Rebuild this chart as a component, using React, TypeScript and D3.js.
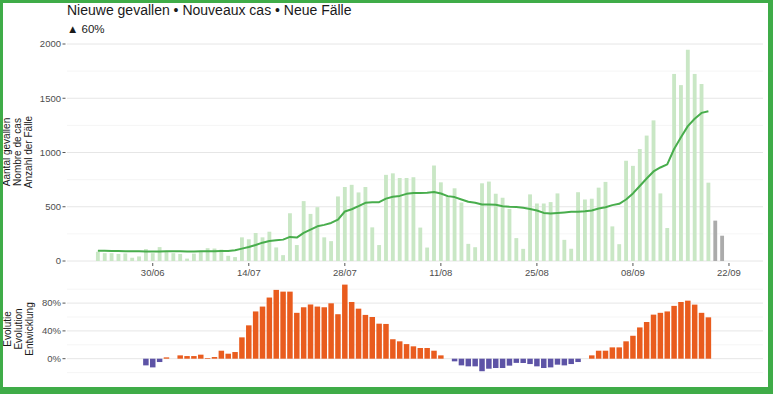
import React from "react";
import * as d3 from "d3";

// ---- data ----
const CASES_START = "2020-06-22";
// daily new cases, 22/06 .. 19/09
const cases = [
  85, 72, 72, 65, 70, 30, 42, 110, 72, 128, 85, 72, 65, 22, 68, 85, 118, 115, 105, 48, 36,
  218, 200, 258, 218, 270, 125, 54, 440, 147, 552, 434, 496, 218, 183, 595, 682, 702, 632,
  682, 310, 147, 794, 808, 765, 765, 772, 308, 124, 880, 725, 601, 670, 539, 158, 127, 716,
  732, 620, 583, 480, 211, 112, 614, 530, 530, 543, 623, 195, 113, 634, 567, 574, 676, 729,
  319, 155, 924, 877, 1032, 1156, 1296, 623, 304, 1724, 1621, 1947, 1724, 1631, 722,
];
// incomplete days, 20/09 .. 21/09
const incompleteCases = [372, 233];
// 7-day average, 22/06 .. 19/09
const rollingAvg = [
  95, 94, 93, 92, 91, 90, 89, 88, 87, 88, 89, 89, 89, 88, 88, 89, 90, 91, 92, 92, 100,
  114, 129, 148, 169, 185, 191, 197, 222, 216, 259, 290, 320, 333, 351, 382, 456, 477, 505,
  536, 542, 542, 575, 592, 600, 619, 627, 627, 629, 636, 622, 598, 589, 567, 546, 536, 521,
  521, 519, 505, 499, 497, 490, 480, 466, 443, 437, 443, 448, 453, 455, 459, 466, 484, 496,
  515, 527, 567, 623, 691, 760, 825, 862, 890, 1032, 1141, 1243, 1311, 1365, 1380,
];
const EVOL_START = "2020-06-29";
// evolution in %, 29/06 .. 19/09
const evolution = [
  -9.6, -12.5, -4.8, 1.9, 0, 4.8, 3.8, 3.8, 5.8, 1, 2.4, 11.5, 7.2, 9.6, 30.7, 48, 68, 75,
  88, 99, 96.5, 96.5, 66, 74, 78, 75, 74, 79.7, 64, 106.6, 81.6, 72, 63, 60, 50.4, 50, 28,
  25, 21, 17.8, 15.4, 15.4, 11.5, 4.8, 0, -3.8, -9.6, -11, -11, -18, -14.4, -13.4, -13.4,
  -10, -6, -6.2, -7.7, -11, -13.4, -12.5, -8.6, -9.6, -7.7, -4.8, 0, 4.8, 11.5, 11.5, 16.3,
  16.3, 25, 33, 45, 52.8, 63.4, 66, 68, 76, 81.6, 83.5, 77.8, 66, 59.5,
];
const yTicks = [0, 500, 1000, 1500, 2000];
const yMinorTicks = [250, 750, 1250, 1750];
const evolTicks = [0, 40, 80];
const evolMinorTicks = [-20, 20, 60, 100];
const xTickLabels = ["30/06", "14/07", "28/07", "11/08", "25/08", "08/09", "22/09"];
const title = "Nieuwe gevallen • Nouveaux cas • Neue Fälle";
const subtitle = "▲ 60%";
const yTitle = ["Aantal gevallen", "Nombre de cas", "Anzahl der Fälle"];
const evolTitle = ["Evolutie", "Evolution", "Entwicklung"];

// ---- helpers ----
const DAY = 86400000;
const parse = (s: string) => new Date(s + "T00:00:00Z");
const addDays = (s: string, i: number) => new Date(parse(s).getTime() + i * DAY);
const labelDate = (l: string) => {
  const [dd, mm] = l.split("/").map(Number);
  return new Date(Date.UTC(2020, mm - 1, dd));
};

const FONT = "'Liberation Sans', Arial, Helvetica, sans-serif";

export default function App() {
  const W = 773, H = 394;
  const ref0 = Date.UTC(2020, 5, 30);
  const x = d3
    .scaleUtc()
    .domain([new Date(ref0 - 12.5 * DAY), new Date(ref0 + 88.96 * DAY)])
    .range([67, 763]);
  const yTop = d3.scaleLinear().domain([0, 2000]).range([261, 44]);
  const yEv = d3.scaleLinear().domain([0, 80]).range([358.7, 303.1]);
  const dayW = x(new Date(ref0 + DAY)) - x(new Date(ref0));
  const topBarW = dayW * 0.56;
  const evBarW = dayW * 0.8;

  const line = d3
    .line<number>()
    .x((_, i) => x(addDays(CASES_START, i)))
    .y((v) => yTop(v));

  const [px0, px1] = x.range();
  const tickColor = "#4d4d4d";

  return (
    <svg
      width={W}
      height={H}
      style={{ position: "absolute", left: 0, top: 0, background: "#fff" }}
      fontFamily={FONT}
    >
      <rect x={0} y={0} width={W} height={H} fill="#fff" />

      {/* titles */}
      <text x={67} y={15} fontSize={14} fill="#1a1a1a">{title}</text>
      <text x={67} y={33} fontSize={11.5} fill="#1a1a1a">{subtitle}</text>

      {/* top panel grid */}
      {yMinorTicks.map((t) => (
        <line key={"m" + t} x1={px0} x2={px1} y1={yTop(t)} y2={yTop(t)} stroke="#f2f2f2" strokeWidth={0.8} />
      ))}
      {yTicks.map((t) => (
        <line key={"g" + t} x1={px0} x2={px1} y1={yTop(t)} y2={yTop(t)} stroke="#e6e6e6" strokeWidth={1} />
      ))}
      {yTicks.map((t) => (
        <g key={"yt" + t}>
          <line x1={62.5} x2={65.5} y1={yTop(t)} y2={yTop(t)} stroke="#555" strokeWidth={1} />
          <text x={61} y={yTop(t)} dy="0.35em" fontSize={9.5} textAnchor="end" fill={tickColor}>{t}</text>
        </g>
      ))}

      {/* top bars */}
      {cases.map((v, i) => {
        const cx = x(addDays(CASES_START, i));
        return (
          <rect key={"c" + i} x={cx - topBarW / 2} y={yTop(v)} width={topBarW} height={yTop(0) - yTop(v)} fill="#c9e7c5" />
        );
      })}
      {incompleteCases.map((v, i) => {
        const cx = x(addDays(CASES_START, cases.length + i));
        return (
          <rect key={"ic" + i} x={cx - topBarW / 2} y={yTop(v)} width={topBarW} height={yTop(0) - yTop(v)} fill="#ababab" />
        );
      })}
      <path d={line(rollingAvg) || ""} fill="none" stroke="#48ad4c" strokeWidth={2} strokeLinejoin="round" />

      {/* x axis */}
      {xTickLabels.map((l) => {
        const cx = x(labelDate(l));
        return (
          <g key={"xt" + l}>
            <line x1={cx} x2={cx} y1={263} y2={266} stroke="#555" strokeWidth={1} />
            <text x={cx} y={276} fontSize={9.5} textAnchor="middle" fill={tickColor}>{l}</text>
          </g>
        );
      })}

      {/* y title */}
      {yTitle.map((t, i) => (
        <text key={"yti" + i} transform={`translate(${10 + i * 11},152) rotate(-90)`} fontSize={10} textAnchor="middle" fill="#1a1a1a">{t}</text>
      ))}

      {/* bottom panel grid */}
      {evolMinorTicks.map((t) => (
        <line key={"em" + t} x1={px0} x2={px1} y1={yEv(t)} y2={yEv(t)} stroke="#f2f2f2" strokeWidth={0.8} />
      ))}
      {evolTicks.map((t) => (
        <line key={"eg" + t} x1={px0} x2={px1} y1={yEv(t)} y2={yEv(t)} stroke="#e6e6e6" strokeWidth={1} />
      ))}
      {evolTicks.map((t) => (
        <g key={"et" + t}>
          <line x1={62.5} x2={65.5} y1={yEv(t)} y2={yEv(t)} stroke="#555" strokeWidth={1} />
          <text x={61} y={yEv(t)} dy="0.35em" fontSize={9.5} textAnchor="end" fill={tickColor}>{t + "%"}</text>
        </g>
      ))}
      {evolution.map((v, i) => {
        const cx = x(addDays(EVOL_START, i));
        const y0 = yEv(0), y1 = yEv(v);
        return (
          <rect
            key={"e" + i}
            x={cx - evBarW / 2}
            y={Math.min(y0, y1)}
            width={evBarW}
            height={Math.abs(y1 - y0)}
            fill={v >= 0 ? "#e95c1e" : "#5d53a6"}
          />
        );
      })}
      {evolTitle.map((t, i) => (
        <text key={"evt" + i} transform={`translate(${11 + i * 11},329) rotate(-90)`} fontSize={10} textAnchor="middle" fill="#1a1a1a">{t}</text>
      ))}

      {/* green frame */}
      <rect x={0} y={0} width={W} height={3} fill="#3fac48" />
      <rect x={0} y={0} width={3} height={H} fill="#3fac48" />
      <rect x={768} y={0} width={5} height={H} fill="#3fac48" />
      <rect x={0} y={387} width={W} height={7} fill="#3fac48" />
    </svg>
  );
}
